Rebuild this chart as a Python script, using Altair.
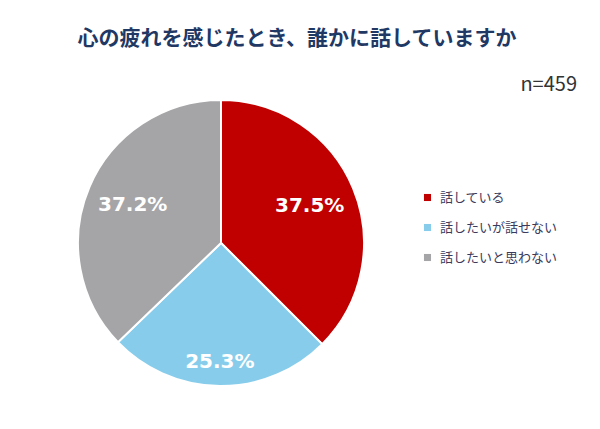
import altair as alt
import pandas as pd

# values
categories = ["話している", "話したいが話せない", "話したいと思わない"]
shares = [37.5, 25.3, 37.2]
slice_colors = ["#C00000", "#87CDEB", "#A5A5A8"]
title_text = "心の疲れを感じたとき、誰かに話していますか"
n_text = "n=459"

df = pd.DataFrame({"回答": categories, "割合": shares, "順": range(len(categories))})

cx, cy, r = 213, 235, 143

pie = alt.Chart(df).mark_arc(outerRadius=r, stroke="white", strokeWidth=2).encode(
    theta=alt.Theta("割合:Q", stack=True),
    order=alt.Order("順:O"),
    x=alt.value(cx),
    y=alt.value(cy),
    color=alt.Color(
        "回答:N",
        scale=alt.Scale(domain=categories, range=slice_colors),
        sort=categories,
        legend=alt.Legend(
            title=None,
            orient="none",
            legendX=413,
            legendY=183,
            symbolType="square",
            symbolSize=50,
            symbolStrokeWidth=0,
            labelFont="Noto Sans CJK JP",
            labelFontSize=13,
            labelColor="#3A3A5C",
            rowPadding=16,
            labelOffset=6,
        ),
    ),
)

# label angle = middle of each slice, worked out from the shares
labels = alt.Chart(df).transform_window(
    cum="sum(割合)", sort=[alt.SortField("順")]
).transform_joinaggregate(
    total="sum(割合)"
).transform_calculate(
    mid="(datum.cum - datum['割合'] / 2) / datum.total * 2 * PI",
    lr="datum['割合'] < 30 ? 119 : 96",
    txt="format(datum['割合'], '.1f') + '%'",
).mark_text(
    font="DejaVu Sans", fontWeight="bold", fontSize=20, color="white"
).encode(
    x=alt.value(cx),
    y=alt.value(cy),
    theta=alt.Theta("mid:Q", scale=None),
    radius=alt.Radius("lr:Q", scale=None),
    text="txt:N",
)

title = alt.Chart(pd.DataFrame({"t": [title_text]})).mark_text(
    font="Noto Sans CJK JP", fontWeight="bold", fontSize=21, color="#1F3864"
).encode(x=alt.value(289), y=alt.value(31), text="t:N")

n_label = alt.Chart(pd.DataFrame({"t": [n_text]})).mark_text(
    font="Noto Sans CJK JP", fontSize=20, color="#333333", align="right"
).encode(x=alt.value(569), y=alt.value(77), text="t:N")

chart = alt.layer(pie, labels, title, n_label).properties(
    width=584,
    height=413,
    autosize=alt.AutoSizeParams(type="none"),
    padding=0,
).configure_view(stroke=None)

chart.save("out.html", embed_options={"renderer": "svg", "actions": False})
